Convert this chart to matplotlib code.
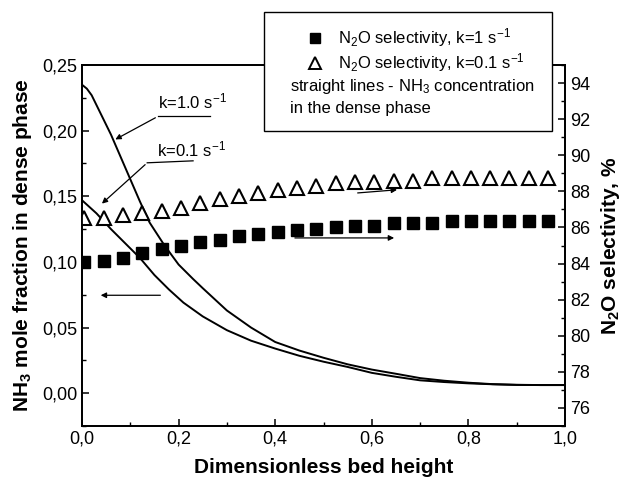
# NH3 mole fraction and N2O selectivity vs bed height
import matplotlib
matplotlib.use("Agg")
import matplotlib.pyplot as plt
import matplotlib.ticker as ticker
from matplotlib.lines import Line2D
from matplotlib.patches import Rectangle

plt.rcParams["font.family"] = ["Liberation Sans", "DejaVu Sans"]
plt.rcParams["mathtext.fontset"] = "custom"
plt.rcParams["mathtext.rm"] = "Liberation Sans"
plt.rcParams["mathtext.bf"] = "Liberation Sans:bold"
plt.rcParams["mathtext.default"] = "regular"

# N2O selectivity (right axis), markers
sel_x = [0.005, 0.045, 0.085, 0.125, 0.165, 0.205, 0.245, 0.285, 0.325, 0.365,
         0.405, 0.445, 0.485, 0.525, 0.565, 0.605, 0.645, 0.685, 0.725, 0.765,
         0.805, 0.845, 0.885, 0.925, 0.965]
sel_k1 = [84.1, 84.15, 84.3, 84.6, 84.8, 85.0, 85.2, 85.3, 85.5, 85.65,
          85.75, 85.85, 85.9, 86.0, 86.1, 86.1, 86.25, 86.25, 86.25, 86.35,
          86.35, 86.35, 86.35, 86.35, 86.35]
sel_k01 = [86.5, 86.5, 86.7, 86.8, 86.9, 87.1, 87.35, 87.55, 87.75, 87.9,
           88.05, 88.2, 88.3, 88.45, 88.5, 88.5, 88.6, 88.6, 88.75, 88.75,
           88.75, 88.75, 88.75, 88.75, 88.75]

# NH3 concentration in the dense phase (left axis), lines
nh3_x_k1 = [0.0, 0.01, 0.02, 0.04, 0.06, 0.08, 0.1, 0.12, 0.14, 0.17, 0.2,
            0.23, 0.25, 0.3, 0.35, 0.4, 0.45, 0.5, 0.55, 0.6, 0.65, 0.7,
            0.75, 0.8, 0.85, 0.9, 0.95, 1.0]
nh3_k1 = [0.235, 0.232, 0.227, 0.212, 0.197, 0.180, 0.163, 0.146, 0.130,
          0.113, 0.098, 0.087, 0.080, 0.063, 0.050, 0.039, 0.0325, 0.027,
          0.022, 0.018, 0.0148, 0.0115, 0.0095, 0.008, 0.0069, 0.0064,
          0.0062, 0.0062]
nh3_x_k01 = [0.0, 0.03, 0.06, 0.09, 0.12, 0.15, 0.18, 0.21, 0.25, 0.3, 0.35,
             0.4, 0.45, 0.5, 0.55, 0.6, 0.65, 0.7, 0.75, 0.8, 0.85, 0.9,
             0.95, 1.0]
nh3_k01 = [0.147, 0.137, 0.125, 0.114, 0.103, 0.090, 0.079, 0.069, 0.0585,
           0.048, 0.040, 0.034, 0.0285, 0.024, 0.020, 0.0155, 0.0125, 0.0098,
           0.0085, 0.0075, 0.0068, 0.0063, 0.0062, 0.0062]

fig = plt.figure(figsize=(6.22, 4.79), dpi=100)
ax = fig.add_axes([0.1318, 0.1106, 0.7766, 0.7537])
ax2 = ax.twinx()

ax.plot(nh3_x_k1, nh3_k1, color="black", lw=1.4)
ax.plot(nh3_x_k01, nh3_k01, color="black", lw=1.4)
ax2.plot(sel_x, sel_k1, ls="none", marker="s", ms=8.5, color="black")
ax2.plot(sel_x, sel_k01, ls="none", marker="^", ms=9.5, mfc="white",
         mec="black", mew=1.5)

ax.set_xlim(0, 1.0)
ax.set_ylim(-0.025, 0.25)
ax2.set_ylim(75, 95)

ax.xaxis.set_major_locator(ticker.MultipleLocator(0.2))
ax.xaxis.set_minor_locator(ticker.MultipleLocator(0.1))
ax.yaxis.set_major_locator(ticker.MultipleLocator(0.05))
ax.yaxis.set_minor_locator(ticker.MultipleLocator(0.025))
ax2.yaxis.set_major_locator(ticker.MultipleLocator(2))
ax2.yaxis.set_minor_locator(ticker.MultipleLocator(1))
ax.xaxis.set_major_formatter(ticker.FuncFormatter(lambda v, p: f"{v:.1f}".replace(".", ",")))
ax.yaxis.set_major_formatter(ticker.FuncFormatter(lambda v, p: f"{v:.2f}".replace(".", ",")))

for a in (ax, ax2):
    a.tick_params(which="major", direction="in", length=5, width=1.1, labelsize=13)
    a.tick_params(which="minor", direction="in", length=3, width=1.0)
    for s in a.spines.values():
        s.set_linewidth(1.3)
ax.tick_params(top=False, which="both")
ax2.tick_params(axis="y", pad=4)

ax.set_xlabel("Dimensionless bed height", fontsize=15, fontweight="bold", labelpad=7)
ax.set_ylabel(r"NH$_\mathbf{3}$ mole fraction in dense phase", fontsize=15,
              fontweight="bold", labelpad=6)
ax2.set_ylabel(r"N$_\mathbf{2}$O selectivity, %", fontsize=15, fontweight="bold",
               labelpad=6)

# curve labels with leader lines
ax.text(0.157, 0.222, r"k=1.0 s$^{-1}$", fontsize=12, va="center")
ax.plot([0.157, 0.265], [0.2108, 0.2108], color="black", lw=0.9)
ax.annotate("", xy=(0.064, 0.1923), xytext=(0.157, 0.2108),
            arrowprops=dict(arrowstyle="-|>", lw=0.9, color="black", mutation_scale=8))
ax.text(0.155, 0.186, r"k=0.1 s$^{-1}$", fontsize=12, va="center")
ax.plot([0.135, 0.23], [0.1755, 0.177], color="black", lw=0.9)
ax.annotate("", xy=(0.037, 0.143), xytext=(0.135, 0.1755),
            arrowprops=dict(arrowstyle="-|>", lw=0.9, color="black", mutation_scale=8))

# axis pointers
ax.annotate("", xy=(0.033, 0.0746), xytext=(0.168, 0.0746),
            arrowprops=dict(arrowstyle="-|>", lw=0.9, color="black", mutation_scale=8))
ax2.annotate("", xy=(0.652, 85.42), xytext=(0.435, 85.42),
             arrowprops=dict(arrowstyle="-|>", lw=0.9, color="black", mutation_scale=8))
ax2.annotate("", xy=(0.658, 88.1), xytext=(0.565, 87.9),
             arrowprops=dict(arrowstyle="-|>", lw=0.9, color="black", mutation_scale=8))

# legend box
fig.add_artist(Rectangle((0.4244, 0.7265), 0.4631, 0.2485, transform=fig.transFigure,
                         facecolor="white", edgecolor="black", lw=1.0, zorder=10))
fig.add_artist(Line2D([315 / 622], [1 - 38 / 479], marker="s", ms=7, color="black",
                      ls="none", transform=fig.transFigure, zorder=11))
fig.add_artist(Line2D([315 / 622], [1 - 63 / 479], marker="^", ms=8, mfc="white",
                      mec="black", mew=1.4, ls="none", transform=fig.transFigure, zorder=11))
leg_kw = dict(fontsize=12, va="center", ha="left", zorder=12)
fig.text(338 / 622, 1 - 38 / 479, r"N$_2$O selectivity, k=1 s$^{-1}$", **leg_kw)
fig.text(338 / 622, 1 - 63 / 479, r"N$_2$O selectivity, k=0.1 s$^{-1}$", **leg_kw)
fig.text(290 / 622, 1 - 87 / 479, r"straight lines - NH$_3$ concentration", **leg_kw)
fig.text(290 / 622, 1 - 108 / 479, "in the dense phase", **leg_kw)

fig.savefig("out.png", dpi=100)
